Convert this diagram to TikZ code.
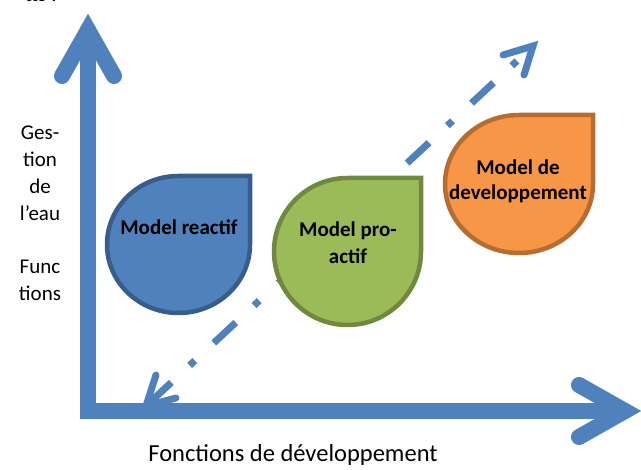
\documentclass[tikz,border=0pt]{standalone}
\usepackage{fontspec}
\setmainfont{Carlito}
\usetikzlibrary{calc}

\definecolor{axisblue}{HTML}{4F81BD}
\definecolor{blueFill}{HTML}{4F81BD}
\definecolor{blueLine}{HTML}{385D8A}
\definecolor{greenFill}{HTML}{9BBB59}
\definecolor{greenLine}{HTML}{71893F}
\definecolor{orangeFill}{HTML}{F79646}
\definecolor{orangeLine}{HTML}{B66D31}

\tikzset{
  axisline/.style={line width=16, draw=axisblue, line cap=round, line join=miter},
  diagline/.style={line width=7, draw=axisblue, line cap=butt,
    dash pattern=on 30 off 25 on 7 off 26, dash phase=83.4},
  diaghead/.style={line width=7, draw=axisblue, line cap=round, line join=miter},
  droplabel/.style={font=\fontsize{21}{25}\selectfont\bfseries, anchor=base, inner sep=0},
  sidelabel/.style={font=\fontsize{21}{27}\selectfont, anchor=base, inner sep=0},
}

% teardrop: ellipse with its upper right quarter squared off
% #1 = style, #2 = centre, #3 = x radius, #4 = y radius
\newcommand{\teardrop}[4][]{%
  \path[#1] ($#2+(#3,0)$) arc[start angle=0, end angle=270, x radius=#3, y radius=#4]
    -- ($#2+(#3,-#4)$) -- cycle;}

\begin{document}
\begin{tikzpicture}[x=1pt, y=-1pt]
\useasboundingbox (0,0) rectangle (641,470);

% heading cut by the top edge
\node[anchor=base east, inner sep=0, font=\fontsize{21}{25}\selectfont] (head) at (57,2) {tts :};

% dash-dot diagonal with open heads at both ends
\coordinate (lo) at (146,406);
\coordinate (hi) at (533,46);
\draw[diagline] (lo) -- (hi);
\draw[diaghead] ($(hi)+(-30,9)$) -- (hi) -- ($(hi)+(-9,29)$);
\draw[diaghead] ($(lo)+(10,-31)$) -- (lo) -- ($(lo)+(30,-8)$);

% the three model drops
\teardrop[fill=blueFill, draw=blueLine, line width=4.5]{(178.5,244.5)}{71.5}{68.5}
\teardrop[fill=greenFill, draw=greenLine, line width=4.5]{(347.5,251.5)}{73.5}{73.5}
\teardrop[fill=orangeFill, draw=orangeLine, line width=4.5]{(519,184)}{74}{69}

\node[droplabel] (reactif) at (179,235) {Model reactif};
\node[droplabel] (proA) at (348,237) {Model pro-};
\node[droplabel] (proB) at (348,264) {actif};
\node[droplabel] (devA) at (518,175) {Model de};
\node[droplabel] (devB) at (518,200) {developpement};

% axes
\draw[axisline] (88,30) -- (88,411) -- (625,411);
\draw[axisline] (62,76) -- (88,30) -- (114,76);
\draw[axisline] (579,385) -- (625,411) -- (579,437);

% axis captions
\node[sidelabel] (l1) at (40,140) {Ges-};
\node[sidelabel] (l2) at (40,167) {tion};
\node[sidelabel] (l3) at (40,194) {de};
\node[sidelabel] (l4) at (40,221) {l’eau};
\node[sidelabel] (l5) at (40,274) {Func};
\node[sidelabel] (l6) at (40,301) {tions};
\node[anchor=base, inner sep=0, font=\fontsize{24.5}{29}\selectfont] (xcap) at (293,462) {Fonctions de développement};
\end{tikzpicture}
\end{document}
